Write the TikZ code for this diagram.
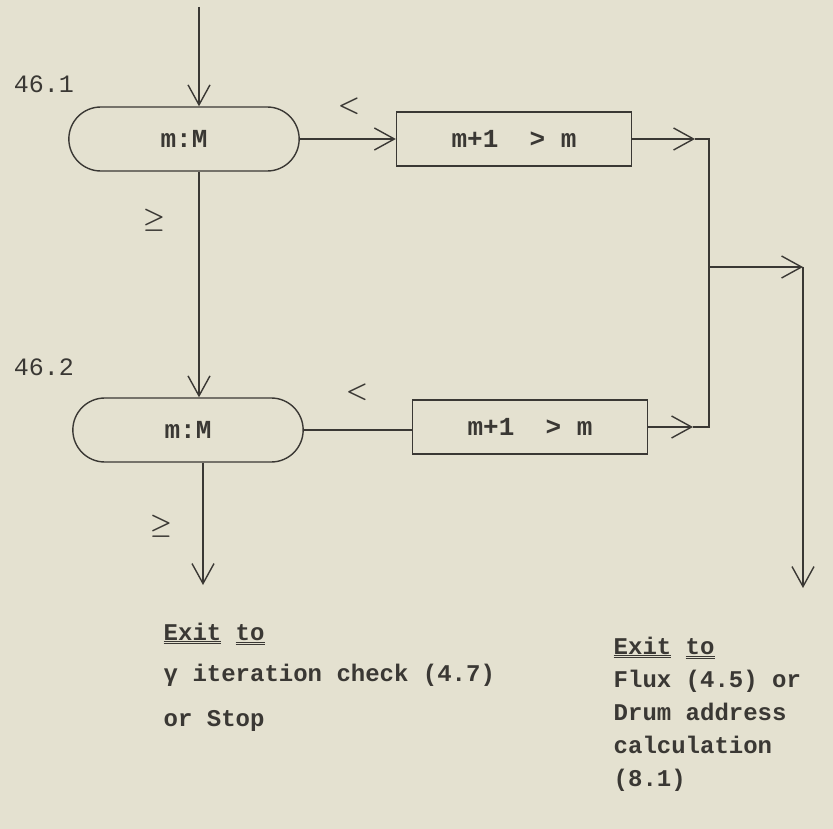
\documentclass[tikz,border=0pt]{standalone}
\usepackage{fontspec}
\setmainfont{Liberation Mono}
\usetikzlibrary{arrows.meta,shapes.misc}
\definecolor{paper}{RGB}{228,225,208}
\definecolor{ink}{RGB}{58,56,52}
% double underline for the typed exit headings
\newcommand{\uu}[1]{\underline{\underline{#1}}}

\begin{document}
\begin{tikzpicture}[x=1pt, y=-1pt, line width=1.4pt, color=ink,
    >={Straight Barb[length=20pt,width=22pt]},
    term/.style={rounded rectangle, draw, minimum width=237pt, minimum height=64pt,
      font=\fontsize{26}{30}\selectfont\bfseries},
    box/.style={rectangle, draw, minimum width=235pt, minimum height=54pt,
      font=\fontsize{26}{30}\selectfont\bfseries},
    hand/.style={font=\fontsize{25}{28}\selectfont},
    sign/.style={font=\fontsize{34}{40}\selectfont\boldmath},
    exitnote/.style={align=left, anchor=north west, inner sep=0pt,
      font=\fontsize{24}{33}\selectfont\bfseries}]
  \fill[paper] (0,0) rectangle (833,829);

  % the two tests and their counters
  \node[term] (t1) at (184,139) {m:M};
  \node[box]  (b1) at (514,139) {m+1\ \ > m};
  \node[term] (t2) at (188,430) {m:M};
  \node[box]  (b2) at (530,427) {m+1\ \ > m};

  \coordinate (in)   at (199,7);
  \coordinate (out1) at (203,585);
  \coordinate (j1)   at (695,139);
  \coordinate (c1)   at (709,139);
  \coordinate (j2)   at (693,427);
  \coordinate (c2)   at (709,427);
  \coordinate (m)    at (709,267);
  \coordinate (r)    at (803,267);
  \coordinate (out2) at (803,588);

  \draw[->] (in) -- (in |- t1.north);
  \draw[->] (t1.east) -- (b1.west);
  \draw[->] (t1.south -| in) -- (t2.north -| in);
  \draw (t2.east) -- (t2.east -| b2.west);
  \draw[->] (t2.south -| out1) -- (out1);

  % both counters join and leave to the right
  \draw[->] (b1.east) -- (j1);
  \draw[->] (b2.east |- j2) -- (j2);
  \draw (j1) -- (c1) -- (c2) -- (j2);
  \draw[->] (m) -- (r);
  \draw[->] (r) -- (out2);

  \node[hand] (n1)  at (44,84)   {46.1};
  \node[hand] (n2)  at (44,367)  {46.2};
  \node[sign] (lt1) at (349,106) {$<$};
  \node[sign] (lt2) at (357,392) {$<$};
  \node[sign] (ge1) at (154,220) {$\geq$};
  \node[sign] (ge2) at (161,526) {$\geq$};

  \node[exitnote] (x1) at (163,622) {\uu{Exit} \uu{to}\\[8pt]
    γ iteration check (4.7)\\[12pt] or Stop};
  \node[exitnote] (x2) at (613,636) {\uu{Exit} \uu{to}\\
    Flux (4.5) or\\ Drum address\\ calculation\\ (8.1)};
\end{tikzpicture}
\end{document}
